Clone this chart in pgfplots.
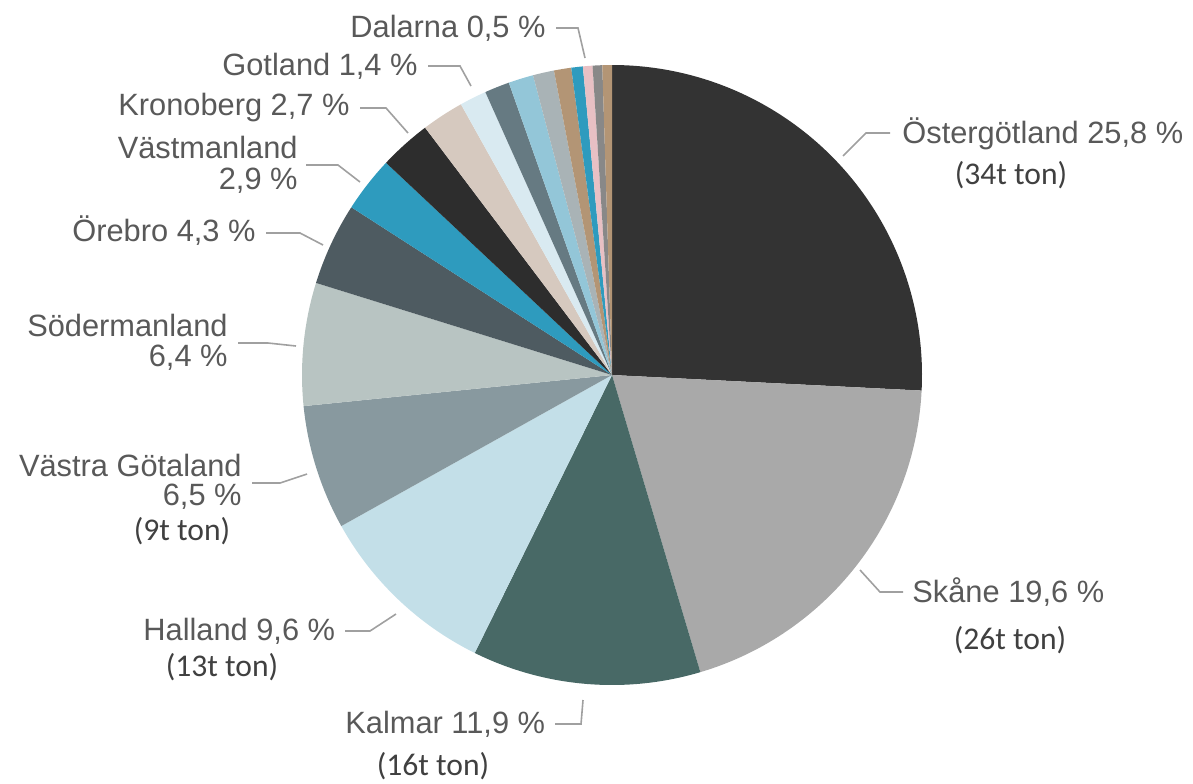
\documentclass[border=0pt]{standalone}
\usepackage{pgfplots}
\pgfplotsset{compat=1.18}
\usepackage{fontspec}
\setmainfont{Liberation Sans}
\newfontfamily\calfont{Carlito}
\definecolor{lbl}{HTML}{595959}
\definecolor{ton}{HTML}{404040}
\definecolor{lead}{HTML}{A0A0A0}
\definecolor{s1}{HTML}{333333}
\definecolor{s2}{HTML}{A9A9A9}
\definecolor{s3}{HTML}{486966}
\definecolor{s4}{HTML}{C3DFE8}
\definecolor{s5}{HTML}{88999F}
\definecolor{s6}{HTML}{B8C4C2}
\definecolor{s7}{HTML}{4E5B61}
\definecolor{s8}{HTML}{2E9BBE}
\definecolor{s9}{HTML}{2D2D2D}
\definecolor{s10}{HTML}{D6C9BF}
\definecolor{s11}{HTML}{D9EAF1}
\definecolor{s12}{HTML}{667A82}
\definecolor{s13}{HTML}{93C6D8}
\definecolor{s14}{HTML}{A9B3B6}
\definecolor{s15}{HTML}{B39575}
\definecolor{s16}{HTML}{2E9BBE}
\definecolor{s17}{HTML}{E8C0C4}
\definecolor{s18}{HTML}{888888}
\definecolor{s19}{HTML}{B39575}
\begin{document}
\begin{tikzpicture}
\begin{axis}[x=0.5pt, y=0.5pt, xmin=0, xmax=1193, ymin=0, ymax=783,
  y dir=reverse, hide axis, clip=false, scale only axis]
\pgfplotsextra{
  \xdef\cum{0}
  \foreach \v/\c in {25.8/s1, 19.6/s2, 11.9/s3, 9.6/s4, 6.5/s5, 6.4/s6, 4.3/s7, 2.9/s8, 2.7/s9,
                     2.2/s10, 1.4/s11, 1.3/s12, 1.3/s13, 1.1/s14, 0.9/s15, 0.6/s16, 0.5/s17, 0.5/s18, 0.5/s19}{
    \pgfmathsetmacro\a{90-3.6*\cum}
    \pgfmathsetmacro\b{90-3.6*(\cum+\v)}
    \fill[\c] (axis cs:612,375) -- ++(\a:155pt) arc[start angle=\a, end angle=\b, radius=155pt] -- cycle;
    \pgfmathsetmacro\cumnew{\cum+\v}
    \xdef\cum{\cumnew}
  }
  % leader lines
  \begin{scope}[lead, line width=0.8pt]
    \draw (axis cs:556,28) -- (axis cs:578,28) -- (axis cs:585,58);
    \draw (axis cs:428,66) -- (axis cs:460,66) -- (axis cs:471,86);
    \draw (axis cs:360,108) -- (axis cs:386,108) -- (axis cs:408,133);
    \draw (axis cs:306,165) -- (axis cs:338,165) -- (axis cs:360,182);
    \draw (axis cs:266,233) -- (axis cs:300,233) -- (axis cs:323,245);
    \draw (axis cs:238,343) -- (axis cs:268,343) -- (axis cs:296,346);
    \draw (axis cs:252,483) -- (axis cs:280,483) -- (axis cs:307,474);
    \draw (axis cs:345,631) -- (axis cs:370,631) -- (axis cs:396,614);
    \draw (axis cs:555,724) -- (axis cs:581,724) -- (axis cs:583,700);
    \draw (axis cs:903,592) -- (axis cs:880,592) -- (axis cs:860,570);
    \draw (axis cs:890,133) -- (axis cs:866,133) -- (axis cs:843,156);
  \end{scope}
  \begin{scope}[every node/.style={inner sep=0pt, text=lbl, font=\fontsize{15.4pt}{17pt}\selectfont}]
    \node[anchor=west] at (axis cs:350,28) {Dalarna 0,5 \%};
    \node[anchor=west] at (axis cs:222,66) {Gotland 1,4 \%};
    \node[anchor=west] at (axis cs:118,108) {Kronoberg 2,7 \%};
    \node[anchor=east] at (axis cs:298,147) {Västmanland};
    \node[anchor=east] at (axis cs:298,181) {2,9 \%};
    \node[anchor=west] at (axis cs:72,231) {Örebro 4,3 \%};
    \node[anchor=east] at (axis cs:228,325) {Södermanland};
    \node[anchor=east] at (axis cs:228,358) {6,4 \%};
    \node[anchor=east] at (axis cs:242,465) {Västra Götaland};
    \node[anchor=east] at (axis cs:242,497) {6,5 \%};
    \node[anchor=west] at (axis cs:143,631) {Halland 9,6 \%};
    \node[anchor=west] at (axis cs:345,724) {Kalmar 11,9 \%};
    \node[anchor=west] at (axis cs:912,592) {Skåne 19,6 \%};
    \node[anchor=west] at (axis cs:902,134) {Östergötland 25,8 \%};
  \end{scope}
  \begin{scope}[every node/.style={inner sep=0pt, text=ton, font=\calfont\fontsize{15.8pt}{17pt}\selectfont}]
    \node at (axis cs:1011,175) {(34t ton)};
    \node at (axis cs:1010,640) {(26t ton)};
    \node at (axis cs:433,766) {(16t ton)};
    \node at (axis cs:222,667) {(13t ton)};
    \node at (axis cs:182,531) {(9t ton)};
  \end{scope}
}
\end{axis}
\pgfresetboundingbox
\path (0,0) rectangle (596.5pt,391.5pt);
\end{tikzpicture}
\end{document}
